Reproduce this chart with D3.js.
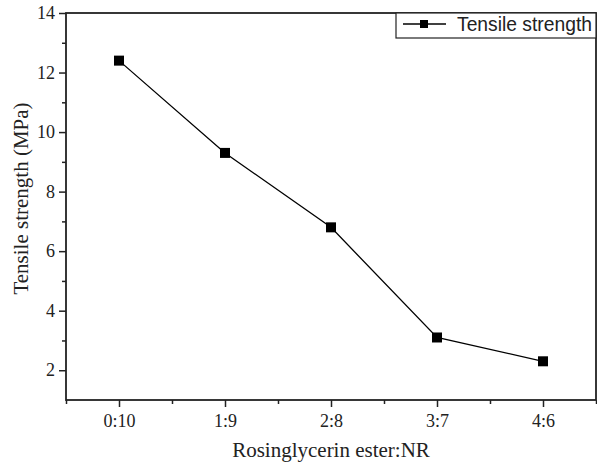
<!DOCTYPE html>
<html>
<head>
<meta charset="utf-8">
<script src="https://cdn.jsdelivr.net/npm/d3@7"></script>
<style>
  body { margin: 0; background: #fff; }
  .tick text { font-family: "Liberation Serif", "Times New Roman", serif; font-size: 18px; fill: #222; }
</style>
</head>
<body>
<div id="chart"></div>
<script>
var categories = ["0:10", "1:9", "2:8", "3:7", "4:6"];
var strength = [12.4, 9.3, 6.8, 3.1, 2.3];
var yTicks = [2, 4, 6, 8, 10, 12, 14];
var seriesName = "Tensile strength";

var W = 597, H = 466;
var margin = {top: 13, right: 1, bottom: 66, left: 66},
    width = W - margin.left - margin.right,
    height = H - margin.top - margin.bottom;

var svg = d3.select("#chart").append("svg")
    .attr("width", W)
    .attr("height", H)
  .append("g")
    .attr("transform", "translate(" + margin.left + "," + margin.top + ")");

var x = d3.scaleLinear()
  .domain([-0.5, categories.length - 0.5])
  .range([0, width]);

var y = d3.scaleLinear()
  .domain([1, 14])
  .range([height, 0]);

// minor ticks
var xMinor = d3.range(-0.5, categories.length, 1);
var yMinor = d3.range(3, 14, 2);

svg.append("g")
    .attr("transform", "translate(0," + height + ")")
    .call(d3.axisBottom(x).tickValues(xMinor).tickSize(4).tickFormat(""))
    .call(function(g){ g.select(".domain").remove(); })
    .selectAll("line").attr("stroke", "#222").attr("stroke-width", 1.5);

svg.append("g")
    .call(d3.axisLeft(y).tickValues(yMinor).tickSize(4).tickFormat(""))
    .call(function(g){ g.select(".domain").remove(); })
    .selectAll("line").attr("stroke", "#222").attr("stroke-width", 1.5);

var xAxis = svg.append("g")
    .attr("transform", "translate(0," + height + ")")
    .call(d3.axisBottom(x)
      .tickValues(d3.range(categories.length))
      .tickFormat(function(d){ return categories[d]; })
      .tickSize(7).tickSizeOuter(0).tickPadding(7));
xAxis.select(".domain").remove();
xAxis.selectAll("line").attr("stroke", "#222").attr("stroke-width", 1.5);

var yAxis = svg.append("g")
    .call(d3.axisLeft(y).tickValues(yTicks).tickSize(7).tickSizeOuter(0).tickPadding(4));
yAxis.select(".domain").remove();
yAxis.selectAll("line").attr("stroke", "#222").attr("stroke-width", 1.5);

// frame
svg.append("rect")
    .attr("x", 0).attr("y", 0)
    .attr("width", width).attr("height", height)
    .attr("fill", "none")
    .attr("stroke", "#222")
    .attr("stroke-width", 1.8);

// data line
var line = d3.line()
  .x(function(d, i){ return x(i); })
  .y(function(d){ return y(d); });

svg.append("path")
    .datum(strength)
    .attr("d", line)
    .attr("fill", "none")
    .attr("stroke", "#000")
    .attr("stroke-width", 1.3);

svg.selectAll(".point")
    .data(strength)
  .enter().append("rect")
    .attr("class", "point")
    .attr("x", function(d, i){ return x(i) - 5; })
    .attr("y", function(d){ return y(d) - 5; })
    .attr("width", 10)
    .attr("height", 10)
    .attr("fill", "#000");

// legend
var lg = svg.append("g").attr("transform", "translate(" + (396 - margin.left) + ",0)");
lg.append("rect")
    .attr("x", 0).attr("y", 0)
    .attr("width", width - (396 - margin.left)).attr("height", 25)
    .attr("fill", "#fff")
    .attr("stroke", "#222")
    .attr("stroke-width", 1.2);
lg.append("line")
    .attr("x1", 7).attr("x2", 50)
    .attr("y1", 11).attr("y2", 11)
    .attr("stroke", "#000").attr("stroke-width", 1.3);
lg.append("rect")
    .attr("x", 24).attr("y", 7)
    .attr("width", 8).attr("height", 8)
    .attr("fill", "#000");
lg.append("text")
    .attr("x", 61).attr("y", 17.5)
    .attr("textLength", 135)
    .attr("lengthAdjust", "spacingAndGlyphs")
    .style("font-family", "'Liberation Sans', Arial, sans-serif")
    .style("font-size", "20px")
    .attr("fill", "#222")
    .text(seriesName);

// axis titles
svg.append("text")
    .attr("x", width / 2)
    .attr("y", height + 57)
    .attr("text-anchor", "middle")
    .style("font-family", "'Liberation Serif', 'Times New Roman', serif")
    .style("font-size", "21px")
    .attr("fill", "#222")
    .text("Rosinglycerin ester:NR");

svg.append("text")
    .attr("transform", "rotate(-90)")
    .attr("x", -(198.5 - margin.top))
    .attr("y", -38)
    .attr("text-anchor", "middle")
    .style("font-family", "'Liberation Serif', 'Times New Roman', serif")
    .style("font-size", "21px")
    .attr("fill", "#222")
    .text("Tensile strength (MPa)");
</script>
</body>
</html>
